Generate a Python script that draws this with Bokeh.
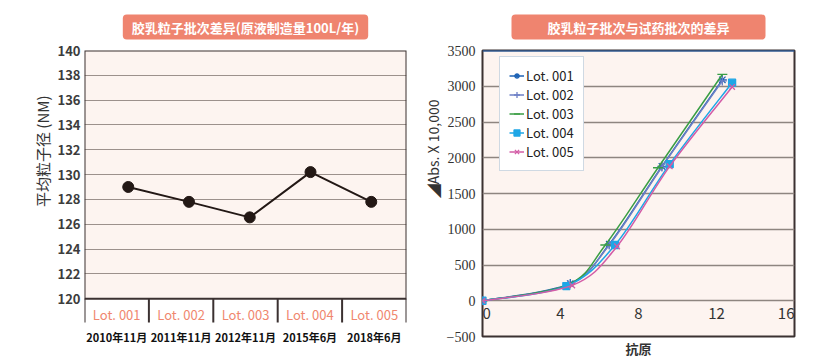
from bokeh.plotting import figure
from bokeh.models import Range1d, LinearAxis, FixedTicker, Span, ColumnDataSource, Title
from bokeh.layouts import row
from bokeh.embed import file_html
from bokeh.resources import INLINE
from bokeh.core.properties import value

FONT = "Noto Sans CJK SC"

# ---------------- left chart data ----------------
left_title = "胶乳粒子批次差异(原液制造量100L/年)"
left_ylabel = "平均粒子径 (NM)"
lots = ["Lot. 001", "Lot. 002", "Lot. 003", "Lot. 004", "Lot. 005"]
dates = ["2010年11月", "2011年11月", "2012年11月", "2015年6月", "2018年6月"]
particle_size = [129.0, 127.8, 126.55, 130.2, 127.8]
left_yticks = [120, 122, 124, 126, 128, 130, 132, 134, 136, 138, 140]

# ---------------- right chart data ----------------
right_title = "胶乳粒子批次与试药批次的差异"
right_xlabel = "抗原"
right_ylabel = "◢Abs. X 10,000"
right_xticks = [0, 4, 8, 12, 16]
right_yticks = [-500, 0, 500, 1000, 1500, 2000, 2500, 3000, 3500]

lot001_x = [0, 4.5, 6.5, 9.2, 12.3]
lot001_y = [0, 240, 790, 1880, 3090]
lot002_x = [0, 4.4, 6.5, 9.2, 12.3]
lot002_y = [0, 220, 780, 1870, 3075]
lot003_x = [0, 4.4, 6.3, 9.0, 12.3]
lot003_y = [0, 225, 780, 1860, 3165]
lot004_x = [0, 4.3, 6.8, 9.6, 12.8]
lot004_y = [0, 205, 780, 1910, 3050]
lot005_x = [0, 4.6, 6.9, 9.6, 12.8]
lot005_y = [0, 215, 760, 1880, 2990]

series = [
    ("Lot. 001", lot001_x, lot001_y, "#1f63b5", "asterisk", 9),
    ("Lot. 002", lot002_x, lot002_y, "#6e80c6", "cross", 9),
    ("Lot. 003", lot003_x, lot003_y, "#3a9e44", "dash", 10),
    ("Lot. 004", lot004_x, lot004_y, "#1ea6e6", "square", 7),
    ("Lot. 005", lot005_x, lot005_y, "#d35ca6", "x", 8),
]

PINK_BG = "#fdf4f0"
BORDER = "#3b3131"
SALMON = "#ef846f"
TXT = "#333333"

FRAME_TOP, FRAME_BOTTOM = 50, 23   # borders shared by both figures in the row
FIG_H = 360
GAP = "\u3000"   # ideographic space used to nudge the side titles along the axis


def style_title(p, padding, standoff):
    t = p.title
    t.align = "center"
    t.text_color = "white"
    t.text_font = FONT
    t.text_font_size = "13px"
    t.text_font_style = "bold"
    t.background_fill_color = SALMON
    t.border_radius = 4
    t.padding = padding
    t.standoff = standoff


def side_title(p, text, size, nudge, standoff, extra=""):
    t = Title(text=text + GAP * nudge + extra, align="right", standoff=standoff,
              text_font=FONT, text_font_size=size, text_font_style="normal",
              text_color=TXT)
    p.add_layout(t, "left")


# ================= left figure =================
idx = list(range(len(lots)))
frame_h = FIG_H - FRAME_TOP - FRAME_BOTTOM
px_per_unit = 249 / (left_yticks[-1] - left_yticks[0])
y_start = left_yticks[-1] - frame_h / px_per_unit
sep_len = 24 / px_per_unit

p1 = figure(width=418, height=FIG_H, x_range=Range1d(-0.72, 4.58),
            y_range=Range1d(y_start, left_yticks[-1]),
            title=left_title,
            output_backend="svg", toolbar_location=None, x_axis_location=None,
            min_border_left=84, min_border_right=12, min_border_top=FRAME_TOP,
            min_border_bottom=FRAME_BOTTOM,
            background_fill_color="white", border_fill_color="white")
style_title(p1, (9, 3), 22)
p1.outline_line_color = None
p1.xgrid.visible = False
p1.yaxis.ticker = FixedTicker(ticks=left_yticks)
p1.yaxis.axis_line_color = None
p1.yaxis.major_tick_line_color = None
p1.yaxis.minor_tick_line_color = None
p1.yaxis.major_tick_out = 0
p1.yaxis.major_label_standoff = 4
p1.yaxis.major_label_text_font = FONT
p1.yaxis.major_label_text_font_size = "13px"
p1.yaxis.major_label_text_font_style = "bold"
p1.yaxis.major_label_text_color = "#3c3c3c"
p1.ygrid.grid_line_color = "#9c918c"
p1.ygrid.grid_line_width = 1.2
side_title(p1, left_ylabel, "15px", 3, 3)

p1.extra_x_ranges = {"cat": Range1d(-0.5, len(lots) - 0.5)}
separators = [i - 0.5 for i in range(len(lots) + 1)]
y_lo, y_hi = left_yticks[0], left_yticks[-1]

# plot box (background + border)
p1.quad(left=[separators[0]], right=[separators[-1]], bottom=[y_lo], top=[y_hi],
        x_range_name="cat", fill_color=PINK_BG, line_color=None, level="image")
p1.quad(left=[separators[0]], right=[separators[-1]], bottom=[y_lo], top=[y_hi],
        x_range_name="cat", fill_color=None, line_color=BORDER, line_width=2)
# category separators
p1.segment(x0=separators, y0=[y_lo] * len(separators), x1=separators,
           y1=[y_lo - sep_len] * len(separators),
           x_range_name="cat", line_color=BORDER, line_width=2)
# lot labels
p1.text(x=idx, y=[y_lo] * len(idx), text=lots, x_range_name="cat",
        text_align="center", text_baseline="middle", y_offset=16,
        text_font=value(FONT), text_font_size="13px", text_color="#f0876f")

date_axis = LinearAxis(x_range_name="cat",
                       ticker=FixedTicker(ticks=idx, minor_ticks=[]),
                       major_label_overrides={i: d for i, d in zip(idx, dates)})
date_axis.axis_line_color = None
date_axis.major_tick_line_color = None
date_axis.minor_tick_line_color = None
date_axis.major_tick_out = 0
date_axis.major_tick_in = 0
date_axis.minor_tick_out = 0
date_axis.minor_tick_in = 0
date_axis.major_label_standoff = -8
date_axis.major_label_text_color = "#111111"
date_axis.major_label_text_font = FONT
date_axis.major_label_text_font_size = "11px"
date_axis.major_label_text_font_style = "bold"
p1.add_layout(date_axis, "below")

p1.line(idx, particle_size, line_color="#231815", line_width=2)
p1.scatter(idx, particle_size, size=11, fill_color="#231815", line_color="#231815")

# ================= right figure =================
p2 = figure(width=402, height=FIG_H, x_range=Range1d(0, 16), y_range=Range1d(-500, 3500),
            title=right_title,
            output_backend="svg", toolbar_location=None,
            min_border_left=64, min_border_right=26, min_border_top=FRAME_TOP,
            min_border_bottom=FRAME_BOTTOM,
            background_fill_color=PINK_BG, border_fill_color="white")
style_title(p2, (36, 3), 22)
p2.outline_line_color = BORDER
p2.outline_line_width = 2
p2.xgrid.visible = False
p2.yaxis.ticker = FixedTicker(ticks=right_yticks)
p2.yaxis.axis_line_color = None
p2.yaxis.major_tick_line_color = None
p2.yaxis.minor_tick_line_color = None
p2.yaxis.major_tick_out = 0
p2.yaxis.major_label_standoff = 7
p2.yaxis.major_label_text_font = "Liberation Sans Narrow"
p2.yaxis.major_label_text_font_size = "14px"
p2.yaxis.major_label_text_color = TXT
p2.ygrid.grid_line_color = "#8e8580"
p2.ygrid.grid_line_width = 1.3
side_title(p2, right_ylabel, "14px", 3, 2, extra="\u2002")

p2.xaxis.ticker = FixedTicker(ticks=[])
p2.xaxis.axis_line_color = None
p2.xaxis.major_tick_out = 0
p2.xaxis.major_tick_in = 0
p2.xaxis.minor_tick_out = 0
p2.xaxis.minor_tick_in = 0
p2.xaxis.major_label_standoff = 0
p2.xaxis.axis_label = right_xlabel
p2.xaxis.axis_label_standoff = 2
p2.xaxis.axis_label_text_font = FONT
p2.xaxis.axis_label_text_font_size = "13px"
p2.xaxis.axis_label_text_font_style = "bold"
p2.xaxis.axis_label_text_color = TXT

p2.add_layout(Span(location=right_yticks[-1], dimension="width", line_color="#2f70c4", line_width=2))

n_xt = len(right_xticks)
xt_align = ["left" if i == 0 else ("right" if i == n_xt - 1 else "center") for i in range(n_xt)]
xt_src = ColumnDataSource(dict(x=right_xticks, y=[0] * n_xt,
                               label=[str(t) for t in right_xticks], align=xt_align))
p2.text(x="x", y="y", text="label", text_align="align", source=xt_src,
        text_baseline="middle", y_offset=13,
        text_font=value(FONT), text_font_size="15px", text_color=TXT)


def bezier_parts(xs, ys):
    n = len(xs)
    out = dict(x0=[], y0=[], x1=[], y1=[], cx0=[], cy0=[], cx1=[], cy1=[])
    for i in range(n - 1):
        pm = i - 1 if i > 0 else i
        pp = i + 2 if i + 2 < n else i + 1
        out["x0"].append(xs[i]); out["y0"].append(ys[i])
        out["x1"].append(xs[i + 1]); out["y1"].append(ys[i + 1])
        out["cx0"].append(xs[i] + (xs[i + 1] - xs[pm]) / 6)
        out["cy0"].append(ys[i] + (ys[i + 1] - ys[pm]) / 6)
        out["cx1"].append(xs[i + 1] - (xs[pp] - xs[i]) / 6)
        out["cy1"].append(ys[i + 1] - (ys[pp] - ys[i]) / 6)
    return out


for name, xs, ys, col, mk, sz in series:
    bz = bezier_parts(xs, ys)
    p2.bezier(line_color=col, line_width=1.5, legend_label=name, **bz)
    p2.scatter(xs, ys, marker=mk, size=sz, line_color=col, fill_color=col,
               line_width=1.3, legend_label=name)

lg = p2.legend[0]
lg.location = (17, 165)
lg.padding = 9
lg.spacing = 0
lg.margin = 0
lg.glyph_height = 17
lg.glyph_width = 15
lg.label_height = 17
lg.label_standoff = 2
lg.label_text_font = FONT
lg.label_text_font_size = "13px"
lg.label_text_color = "#222222"
lg.border_line_color = "#9fb3c8"
lg.border_line_width = 1
lg.background_fill_color = "white"
lg.background_fill_alpha = 1

layout = row(p1, p2)
open("out.html", "w").write(file_html(layout, INLINE))
